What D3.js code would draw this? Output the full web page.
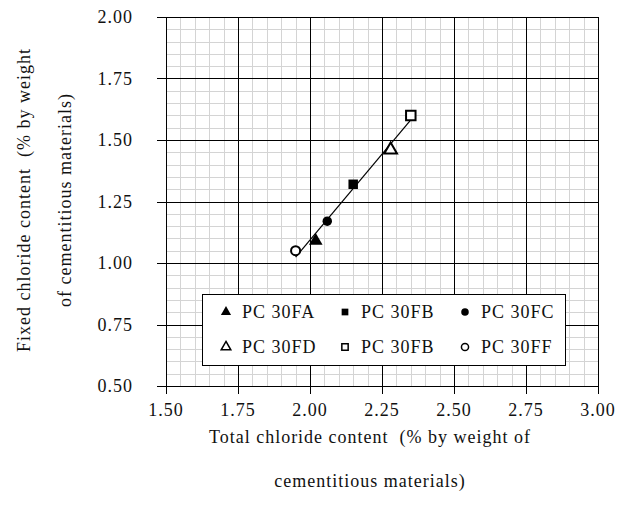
<!DOCTYPE html>
<html>
<head>
<meta charset="utf-8">
<script src="https://cdn.jsdelivr.net/npm/d3@7"></script>
<style>
  body { margin: 0; background: #fff; }
  svg { font-family: "Liberation Serif", "DejaVu Serif", serif; }
  text { white-space: pre; letter-spacing: 1px; fill: #111; }
</style>
</head>
<body>
<svg width="626" height="517"></svg>
<script>
// series data
const mixes = ['PC 30FA', 'PC 30FB', 'PC 30FC', 'PC 30FD', 'PC 30FE', 'PC 30FF'];
const legendLabels = ['PC 30FA', 'PC 30FB', 'PC 30FC', 'PC 30FD', 'PC 30FB', 'PC 30FF'];
const totalCl = [2.02, 2.15, 2.06, 2.28, 2.35, 1.95];
const fixedCl = [1.09, 1.32, 1.17, 1.46, 1.60, 1.05];
const xTicks = [1.50, 1.75, 2.00, 2.25, 2.50, 2.75, 3.00];
const yTicks = [0.50, 0.75, 1.00, 1.25, 1.50, 1.75, 2.00];

(function () {
  const svg = d3.select('svg');
  const m = {left: 166, right: 28, top: 17, bottom: 131};
  const W = 626 - m.left - m.right;
  const H = 517 - m.top - m.bottom;
  const g = svg.append('g').attr('transform', `translate(${m.left},${m.top})`);

  const x = d3.scaleLinear().domain([1.5, 3.0]).range([0, W]);
  const y = d3.scaleLinear().domain([0.5, 2.0]).range([H, 0]);

  // minor grid every 0.05
  const minorX = d3.range(1.5, 3.0001, 0.05);
  const minorY = d3.range(0.5, 2.0001, 0.05);
  g.append('g').selectAll('line').data(minorX).join('line')
    .attr('x1', d => Math.round(x(d)) + 0.5).attr('x2', d => Math.round(x(d)) + 0.5)
    .attr('y1', 0).attr('y2', H)
    .attr('stroke', '#d4d4d4').attr('stroke-width', 1);
  g.append('g').selectAll('line').data(minorY).join('line')
    .attr('y1', d => Math.round(y(d)) + 0.5).attr('y2', d => Math.round(y(d)) + 0.5)
    .attr('x1', 0).attr('x2', W)
    .attr('stroke', '#d4d4d4').attr('stroke-width', 1);

  // major grid + ticks
  g.append('g').selectAll('line').data(xTicks).join('line')
    .attr('x1', d => Math.round(x(d)) + 0.5).attr('x2', d => Math.round(x(d)) + 0.5)
    .attr('y1', 0).attr('y2', H + 8)
    .attr('stroke', '#000').attr('stroke-width', 1);
  g.append('g').selectAll('line').data(yTicks).join('line')
    .attr('y1', d => Math.round(y(d)) + 0.5).attr('y2', d => Math.round(y(d)) + 0.5)
    .attr('x1', -9).attr('x2', W)
    .attr('stroke', '#000').attr('stroke-width', 1);

  // tick labels
  g.append('g').selectAll('text').data(xTicks).join('text')
    .attr('x', d => x(d)).attr('y', H + 30)
    .attr('text-anchor', 'middle')
    .attr('font-size', 18)
    .text(d => d.toFixed(2));
  g.append('g').selectAll('text').data(yTicks).join('text')
    .attr('x', -33).attr('y', d => y(d) + 6)
    .attr('text-anchor', 'end')
    .attr('font-size', 18)
    .text(d => d.toFixed(2));

  // trend line (least squares through the six points)
  const mx = d3.mean(totalCl), my = d3.mean(fixedCl);
  const sxy = d3.sum(totalCl, (v, i) => (v - mx) * (fixedCl[i] - my));
  const sxx = d3.sum(totalCl, v => (v - mx) * (v - mx));
  const slope = sxy / sxx, icpt = my - slope * mx;
  const xe = d3.extent(totalCl);
  g.append('line')
    .attr('x1', x(xe[0])).attr('y1', y(slope * xe[0] + icpt))
    .attr('x2', x(xe[1])).attr('y2', y(slope * xe[1] + icpt))
    .attr('stroke', '#000').attr('stroke-width', 1.2);

  // markers
  const shapes = [
    {type: d3.symbolTriangle, fill: true},
    {type: d3.symbolSquare, fill: true},
    {type: d3.symbolCircle, fill: true},
    {type: d3.symbolTriangle, fill: false},
    {type: d3.symbolSquare, fill: false},
    {type: d3.symbolCircle, fill: false}
  ];
  const sizes = [80, 90, 70, 70, 90, 65];
  g.append('g').selectAll('path').data(mixes).join('path')
    .attr('transform', (d, i) => `translate(${x(totalCl[i])},${y(fixedCl[i])})`)
    .attr('d', (d, i) => d3.symbol().type(shapes[i].type).size(sizes[i])())
    .attr('fill', (d, i) => shapes[i].fill ? '#000' : '#fff')
    .attr('stroke', '#000')
    .attr('stroke-width', (d, i) => shapes[i].fill ? 0 : 2);

  // legend
  const lg = svg.append('g');
  lg.append('rect')
    .attr('x', 202.5).attr('y', 294.5).attr('width', 363).attr('height', 71)
    .attr('fill', '#fff').attr('stroke', '#000').attr('stroke-width', 1);
  const colX = [226, 345, 465];
  const rowY = [312, 347];
  const items = lg.selectAll('g.item').data(legendLabels).join('g')
    .attr('class', 'item')
    .attr('transform', (d, i) => `translate(${colX[i % 3]},${rowY[Math.floor(i / 3)]})`);
  items.append('path')
    .attr('d', (d, i) => d3.symbol().type(shapes[i].type).size(shapes[i].fill ? 45 : 40)())
    .attr('fill', (d, i) => shapes[i].fill ? '#000' : '#fff')
    .attr('stroke', '#000')
    .attr('stroke-width', (d, i) => shapes[i].fill ? 0 : 1.5);
  items.append('text')
    .attr('x', 16).attr('y', 6)
    .attr('font-size', 18)
    .text(d => d);

  // axis titles
  svg.append('text')
    .attr('x', 370).attr('y', 443)
    .attr('text-anchor', 'middle').attr('font-size', 18)
    .text('Total chloride content  (% by weight of');
  svg.append('text')
    .attr('x', 370).attr('y', 487)
    .attr('text-anchor', 'middle').attr('font-size', 18)
    .text('cementitious materials)');
  svg.append('text')
    .attr('transform', 'translate(30,200) rotate(-90)')
    .attr('text-anchor', 'middle').attr('font-size', 18)
    .text('Fixed chloride content  (% by weight');
  svg.append('text')
    .attr('transform', 'translate(71,200) rotate(-90)')
    .attr('text-anchor', 'middle').attr('font-size', 18)
    .text('of cementitious materials)');
})();
</script>
</body>
</html>
